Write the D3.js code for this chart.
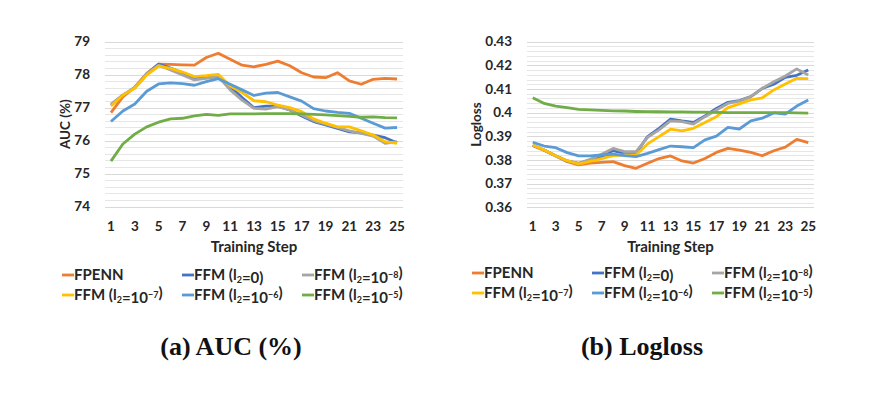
<!DOCTYPE html>
<html lang="en">
<head>
<meta charset="utf-8">
<title>AUC and Logloss by training step</title>
<script src="https://cdnjs.cloudflare.com/ajax/libs/d3/7.8.5/d3.min.js"></script>
<style>
  body { margin: 0; background: #fff; }
  svg text { font-family: Lato, "Open Sans", sans-serif; font-weight: 700; fill: #262626; }
  .caption { font-family: "Liberation Serif", "DejaVu Serif", serif !important; font-size: 26px; fill: #111; }
</style>
</head>
<body>
<svg id="chart" width="892" height="396"></svg>
<script>
// training steps on the x axis
var steps = d3.range(1, 26);
var xTicks = [1, 3, 5, 7, 9, 11, 13, 15, 17, 19, 21, 23, 25];

// series labels (_n = subscript, ^n = superscript) and colours
var seriesNames = ["FPENN", "FFM (l_2=0)", "FFM (l_2=10^-8)", "FFM (l_2=10^-7)", "FFM (l_2=10^-6)", "FFM (l_2=10^-5)"];
var seriesColors = ["#ED7D31", "#4472C4", "#A5A5A5", "#FFC000", "#5B9BD5", "#70AD47"];

// AUC (%) values
var aucFPENN = [76.85, 77.33, 77.62, 78.04, 78.32, 78.31, 78.30, 78.29, 78.52, 78.65, 78.47, 78.29, 78.24, 78.31, 78.41, 78.27, 78.06, 77.93, 77.91, 78.06, 77.81, 77.71, 77.86, 77.89, 77.87];
var aucFFM0 = [77.08, 77.38, 77.6, 78.02, 78.32, 78.2, 78.06, 77.89, 77.92, 77.96, 77.64, 77.31, 77.0, 77.05, 77.05, 76.93, 76.75, 76.58, 76.48, 76.37, 76.27, 76.24, 76.17, 76.09, 75.94];
var aucFFM8 = [77.11, 77.38, 77.62, 78.03, 78.29, 78.14, 77.99, 77.84, 77.89, 77.94, 77.54, 77.23, 76.98, 76.96, 77.03, 76.93, 76.78, 76.61, 76.5, 76.4, 76.3, 76.22, 76.14, 75.92, 75.97];
var aucFFM7 = [77.05, 77.38, 77.59, 77.99, 78.26, 78.19, 78.08, 77.94, 77.97, 78.01, 77.66, 77.46, 77.21, 77.18, 77.08, 77.0, 76.88, 76.66, 76.53, 76.42, 76.42, 76.3, 76.17, 75.97, 75.92];
var aucFFM6 = [76.58, 76.9, 77.11, 77.5, 77.72, 77.75, 77.73, 77.68, 77.79, 77.88, 77.71, 77.54, 77.37, 77.44, 77.46, 77.33, 77.2, 76.97, 76.9, 76.86, 76.83, 76.68, 76.53, 76.38, 76.4];
var aucFFM5 = [75.38, 75.9, 76.2, 76.42, 76.56, 76.66, 76.68, 76.75, 76.8, 76.77, 76.81, 76.81, 76.81, 76.82, 76.82, 76.82, 76.81, 76.8, 76.78, 76.76, 76.74, 76.71, 76.72, 76.7, 76.69];

// Logloss values
var llFPENN = [0.3860, 0.3840, 0.3817, 0.3793, 0.3779, 0.3787, 0.3790, 0.3793, 0.3776, 0.3765, 0.3786, 0.3806, 0.3817, 0.3796, 0.3787, 0.3806, 0.3832, 0.3849, 0.3842, 0.3832, 0.3818, 0.3839, 0.3854, 0.3887, 0.3873];
var llFFM0 = [0.3862, 0.3842, 0.3818, 0.3796, 0.3786, 0.3800, 0.3814, 0.3840, 0.3828, 0.3828, 0.3899, 0.3934, 0.3973, 0.3965, 0.3959, 0.3986, 0.4018, 0.4044, 0.4051, 0.4068, 0.4103, 0.4120, 0.4149, 0.4158, 0.4180];
var llFFM8 = [0.3862, 0.3842, 0.3818, 0.3796, 0.3786, 0.3803, 0.3824, 0.3849, 0.3835, 0.3835, 0.3896, 0.3927, 0.3965, 0.3962, 0.3952, 0.3983, 0.4011, 0.4039, 0.4049, 0.4068, 0.4103, 0.4131, 0.4155, 0.4185, 0.4159];
var llFFM7 = [0.3863, 0.3842, 0.3818, 0.3797, 0.3783, 0.3794, 0.3806, 0.3818, 0.3821, 0.3821, 0.3868, 0.3899, 0.3930, 0.3923, 0.3934, 0.3958, 0.3983, 0.4021, 0.4037, 0.4054, 0.4063, 0.4096, 0.4121, 0.4145, 0.4144];
var llFFM6 = [0.3875, 0.3859, 0.3852, 0.3831, 0.3817, 0.3817, 0.3821, 0.3825, 0.3818, 0.3814, 0.3828, 0.3844, 0.3859, 0.3856, 0.3852, 0.3885, 0.3901, 0.3938, 0.3931, 0.3965, 0.3977, 0.3999, 0.3994, 0.4028, 0.4054];
var llFFM5 = [0.4063, 0.4039, 0.4028, 0.4021, 0.4014, 0.4012, 0.4010, 0.4008, 0.4007, 0.4005, 0.4004, 0.4004, 0.4003, 0.4003, 0.4002, 0.4002, 0.4001, 0.4000, 0.4000, 0.4000, 0.4000, 0.4000, 0.4000, 0.3999, 0.3998];

// y axis tick labels
var aucTicks = [74, 75, 76, 77, 78, 79];
var llTicks = [0.36, 0.37, 0.38, 0.39, 0.40, 0.41, 0.42, 0.43];
var llTickLabels = ["0.36", "0.37", "0.38", "0.39", "0.4", "0.41", "0.42", "0.43"];

var svg = d3.select("#chart");

// write a label with _sub and ^sup parts as tspans
function richText(sel, str) {
    var parts = str.split(/(_\d|\^-?\d+)/).filter(function (p) { return p.length; });
    parts.forEach(function (p) {
        if (p[0] === "_") {
            sel.append("tspan").attr("font-size", "9px").attr("dy", 3).text(p.slice(1));
            sel.append("tspan").attr("dy", -3).text("");
        } else if (p[0] === "^") {
            sel.append("tspan").attr("font-size", "9px").attr("dy", -5).text(p.slice(1).replace("-", "\u2212"));
            sel.append("tspan").attr("dy", 5).text("");
        } else {
            sel.append("tspan").text(p);
        }
    });
}

function drawPanel(cfg) {
    var g = svg.append("g");
    var x = d3.scaleLinear().domain([0.5, 25.5]).range([cfg.left, cfg.right]);
    var y = d3.scaleLinear().domain(cfg.yDomain).range([cfg.bottom, cfg.top]);

    // minor + major gridlines
    var minor = d3.range(0, 35).map(function (i) { return cfg.yDomain[0] + i * cfg.minorStep; })
        .filter(function (v) { return v <= cfg.yDomain[1] + 1e-9; });
    g.selectAll(".grid").data(minor).join("line")
        .attr("x1", cfg.left).attr("x2", cfg.right)
        .attr("y1", function (d) { return Math.round(y(d)) + 0.5; })
        .attr("y2", function (d) { return Math.round(y(d)) + 0.5; })
        .attr("stroke", "#e6e6e6").attr("stroke-width", 1);
    g.selectAll(".major").data(cfg.ticks).join("line")
        .attr("x1", cfg.left).attr("x2", cfg.right)
        .attr("y1", function (d) { return Math.round(y(d)) + 0.5; })
        .attr("y2", function (d) { return Math.round(y(d)) + 0.5; })
        .attr("stroke", "#d9d9d9").attr("stroke-width", 1);

    // y tick labels
    g.selectAll(".ytick").data(cfg.ticks).join("text")
        .attr("x", cfg.left - 15).attr("y", function (d) { return y(d); })
        .attr("dy", "0.35em").attr("text-anchor", "end").attr("font-size", "13.5px")
        .text(function (d, i) { return cfg.tickLabels[i]; });

    // x tick labels
    g.selectAll(".xtick").data(xTicks).join("text")
        .attr("x", function (d) { return x(d); }).attr("y", cfg.bottom + 24)
        .attr("text-anchor", "middle").attr("font-size", "13.5px")
        .text(function (d) { return d; });

    // axis titles
    g.append("text").attr("x", (cfg.left + cfg.right) / 2).attr("y", cfg.bottom + 45)
        .attr("text-anchor", "middle").attr("font-size", "15px").text("Training Step");
    g.append("text")
        .attr("transform", "translate(" + cfg.yTitleX + "," + (cfg.top + cfg.bottom) / 2 + ") rotate(-90)")
        .attr("text-anchor", "middle").attr("dy", "0.35em").attr("font-size", "13.5px").text(cfg.yTitle);

    // lines
    var line = d3.line()
        .x(function (d, i) { return x(steps[i]); })
        .y(function (d) { return y(d); });
    cfg.series.forEach(function (vals, k) {
        g.append("path").attr("d", line(vals))
            .attr("fill", "none").attr("stroke", seriesColors[k])
            .attr("stroke-width", 2.8).attr("stroke-linejoin", "round");
    });

    // legend: 3 columns x 2 rows
    seriesNames.forEach(function (name, k) {
        var lx = cfg.legendX + (k % 3) * 120;
        var ly = cfg.legendY + Math.floor(k / 3) * 20;
        g.append("line").attr("x1", lx).attr("x2", lx + 12).attr("y1", ly).attr("y2", ly)
            .attr("stroke", seriesColors[k]).attr("stroke-width", 2.8);
        var t = g.append("text").attr("x", lx + 12).attr("y", ly).attr("dy", "0.36em")
            .attr("font-size", "15px");
        richText(t, name);
    });

    // caption
    g.append("text").attr("class", "caption").attr("x", cfg.captionX).attr("y", 355)
        .attr("text-anchor", "middle").text(cfg.caption);
}

drawPanel({
    left: 105, right: 403, top: 41.7, bottom: 206.7,
    yDomain: [74, 79], minorStep: 0.2, ticks: aucTicks,
    tickLabels: aucTicks.map(String), yTitle: "AUC (%)", yTitleX: 65,
    series: [aucFPENN, aucFFM0, aucFFM8, aucFFM7, aucFFM6, aucFFM5],
    legendX: 62, legendY: 275, caption: "(a) AUC (%)", captionX: 231
});

drawPanel({
    left: 527, right: 814, top: 41.7, bottom: 207.3,
    yDomain: [0.36, 0.43], minorStep: 0.002, ticks: llTicks,
    tickLabels: llTickLabels, yTitle: "Logloss", yTitleX: 476,
    series: [llFPENN, llFFM0, llFFM8, llFFM7, llFFM6, llFFM5],
    legendX: 472, legendY: 273, caption: "(b) Logloss", captionX: 642
});
</script>
</body>
</html>
